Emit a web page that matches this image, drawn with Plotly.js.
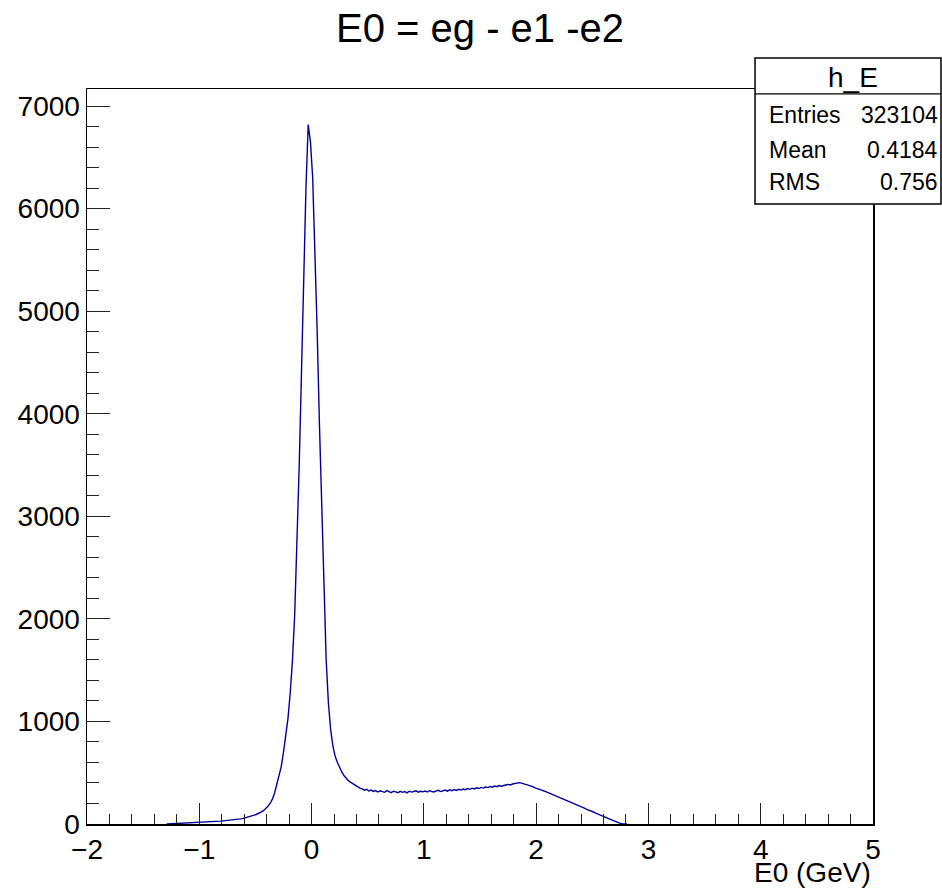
<!DOCTYPE html>
<html>
<head>
<meta charset="utf-8">
<script src="https://cdn.plot.ly/plotly-3.0.1.min.js"></script>
<style>html,body{margin:0;padding:0;background:#fff;}#plot{width:942px;height:892px;}</style>
</head>
<body>
<div id="plot"></div>
<script>
// Histogram h_E: bin centres start at binStart, spacing binStep
const binStart = -1.29;
const binStep = 0.02;
const counts = [
  0, 1, 1, 2, 2, 3, 4, 5, 6, 7, 9, 10, 12, 13, 15,
  16, 18, 19, 20, 22, 23, 25, 26, 27, 28, 30, 32, 33, 35, 38, 40, 43, 46, 50, 55,
  60, 66, 71, 78, 86, 95, 102, 115, 130, 148, 170, 200, 240, 300, 390, 470, 560, 700, 850, 1030,
  1280, 1600, 2050, 2700, 3500, 4400, 5400, 6200, 6820, 6650, 6300, 5600, 4800, 3900, 3050, 2300,
  1600, 1180, 920, 760, 660, 600, 550, 505, 470, 440, 420, 405, 390, 375, 360, 350,
  342, 330, 338, 322, 331, 318, 326, 312, 324, 316, 309, 325, 313, 306, 320, 311,
  305, 318, 309, 316, 304, 320, 311, 317, 323, 310, 319, 314, 322, 312, 325, 317,
  313, 323, 328, 316, 324, 331, 320, 333, 325, 336, 327, 338, 331, 341, 334, 345,
  338, 349, 342, 353, 346, 357, 350, 361, 355, 366, 359, 370, 364, 375, 368, 378,
  380, 386, 381, 390, 393, 398, 403, 398, 392, 384, 379, 370, 364, 352, 347, 336,
  330, 322, 313, 304, 297, 285, 279, 268, 259, 250, 238, 229, 222, 209, 203, 192,
  184, 172, 163, 154, 143, 136, 124, 117, 107, 99, 88, 80, 68, 60, 49, 40,
  30, 21, 12, 6, 2, 0, 0
];
const histTitle = "E0 = eg - e1 -e2";
const xAxisTitle = "E0 (GeV)";
const statName = "h_E";
const statLabels = ["Entries", "Mean", "RMS"];
const statValues = ["323104", "0.4184", "0.756"];
const xRange = [-2, 5];
const yRange = [0, 7166];

const xs = counts.map((_, i) => +(binStart + i * binStep).toFixed(4));

const FONT = "Liberation Sans, Arial, Helvetica, sans-serif";

const trace = {
  x: xs, y: counts, type: "scatter", mode: "lines",
  line: {color: "#000099", width: 1.4, shape: "linear"},
  hoverinfo: "skip", showlegend: false
};

// stats box geometry (paper coords)
const bx0 = 0.8499, bx1 = 1.0865, by0 = 0.8435, by1 = 1.0422, byh = 0.9935;
const rowY = [0.9646, 0.917, 0.8735];

const annotations = [
  {xref: "paper", yref: "paper", x: 1, y: -0.066, xanchor: "right", yanchor: "middle",
   text: xAxisTitle, showarrow: false, font: {family: FONT, size: 28, color: "#000"}},
  {xref: "paper", yref: "paper", x: 0.9746, y: 1.015, xanchor: "center", yanchor: "middle",
   text: statName, showarrow: false, font: {family: FONT, size: 28, color: "#000"}}
];
statLabels.forEach((lab, i) => {
  annotations.push({xref: "paper", yref: "paper", x: 0.8651, y: rowY[i], xanchor: "left", yanchor: "middle",
    text: lab, showarrow: false, font: {family: FONT, size: 23, color: "#000"}});
  annotations.push({xref: "paper", yref: "paper", x: 1.0852, y: rowY[i], xanchor: "right", yanchor: "middle",
    text: statValues[i], showarrow: false, font: {family: FONT, size: 23, color: "#000"}});
});

const layout = {
  width: 942, height: 892,
  margin: {l: 87, r: 69, t: 89, b: 68},
  paper_bgcolor: "#fff", plot_bgcolor: "#fff",
  showlegend: false,
  title: {text: histTitle, x: 0.5, xref: "paper", y: 1 - 28/892, yref: "container",
          xanchor: "center", yanchor: "middle", font: {family: FONT, size: 40, color: "#000"}},
  xaxis: {
    range: xRange, dtick: 1, tick0: 0, ticks: "inside", ticklen: 21, tickwidth: 1, tickcolor: "#222",
    minor: {dtick: 0.2, tick0: 0, ticks: "inside", ticklen: 10, tickwidth: 1, tickcolor: "#222", showgrid: false},
    showline: true, mirror: true, linecolor: "#000", linewidth: 1.5,
    showgrid: false, zeroline: false,
    tickfont: {family: FONT, size: 28, color: "#000"}
  },
  yaxis: {
    range: yRange, dtick: 1000, tick0: 0, ticks: "inside", ticklen: 23, tickwidth: 1, tickcolor: "#222",
    minor: {dtick: 200, tick0: 0, ticks: "inside", ticklen: 12, tickwidth: 1, tickcolor: "#222", showgrid: false},
    showline: true, mirror: true, linecolor: "#000", linewidth: 1.5,
    showgrid: false, zeroline: false, tickformat: "d",
    tickfont: {family: FONT, size: 28, color: "#000"}
  },
  shapes: [
    {type: "rect", xref: "paper", yref: "paper", x0: bx0, x1: bx1, y0: by0, y1: by1,
     fillcolor: "#fff", line: {color: "#000", width: 1.5}, layer: "above"},
    {type: "line", xref: "paper", yref: "paper", x0: bx0, x1: bx1, y0: byh, y1: byh,
     line: {color: "#000", width: 1.2}, layer: "above"}
  ],
  annotations: annotations
};

Plotly.newPlot("plot", [trace], layout, {staticPlot: true, displayModeBar: false});
</script>
</body>
</html>
